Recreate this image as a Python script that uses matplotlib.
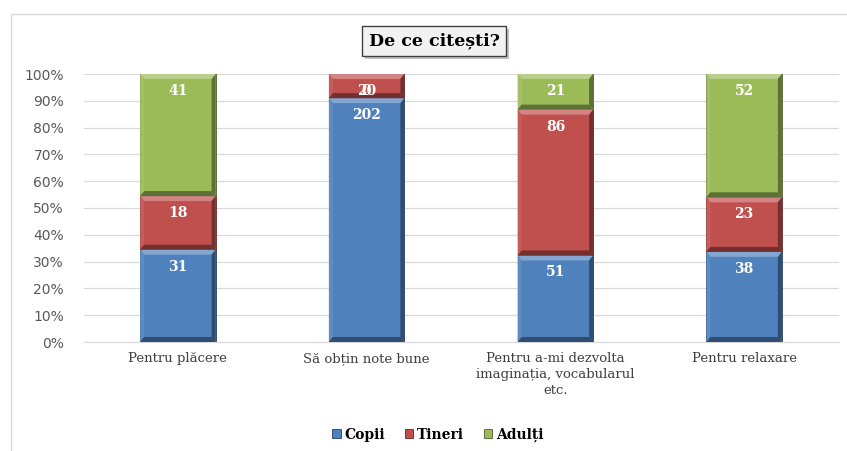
import matplotlib
matplotlib.use("Agg")
import matplotlib.pyplot as plt
import numpy as np
from matplotlib.patches import Polygon, Rectangle
from matplotlib.ticker import PercentFormatter

categories = ["Pentru plăcere", "Să obțin note bune",
              "Pentru a-mi dezvolta\nimaginația, vocabularul\netc.", "Pentru relaxare"]
series_names = ["Copii", "Tineri", "Adulți"]
copii = [31, 202, 51, 38]
tineri = [18, 20, 86, 23]
adulti = [41, 0, 21, 52]
colors = ["#4F81BD", "#C0504D", "#9BBB59"]

W, H = 847, 451
fig = plt.figure(figsize=(W / 100, H / 100), dpi=100)
ax = fig.add_axes([83.5 / W, 1 - 342 / H, 755 / W, 268 / H])

serif = ["DejaVu Serif"]

# outer chart-area frame (left and top edges visible)
fig.patches.append(Rectangle((11 / W, -0.1), 2.0, 1 - 14 / H + 0.1,
                             transform=fig.transFigure, fill=False,
                             edgecolor="#d9d9d9", linewidth=1.0, zorder=0))

data = np.array([copii, tineri, adulti], dtype=float)
totals = data.sum(axis=0)
fracs = data / totals
x = np.arange(len(categories))
width = 0.4


def lighten(c, f):
    c = np.array(matplotlib.colors.to_rgb(c))
    return tuple(c + (1 - c) * f)


def darken(c, f):
    c = np.array(matplotlib.colors.to_rgb(c))
    return tuple(c * (1 - f))


dx = 4 / 189.0   # bevel width in x data units
dy = 5 / 268.0   # bevel height in y data units

bottom = np.zeros(len(categories))
for i, (name, col) in enumerate(zip(series_names, colors)):
    bars = ax.bar(x, fracs[i], width, bottom=bottom, color=col, label=name,
                  edgecolor=darken(col, 0.5), linewidth=0.6, zorder=2)
    for j, b in enumerate(bars):
        h = b.get_height()
        if h <= 0:
            continue
        x0, y0 = b.get_x(), b.get_y()
        x1, y1 = x0 + b.get_width(), y0 + h
        ddy = min(dy, h / 3)
        # top highlight
        ax.add_patch(Polygon([(x0, y1), (x1, y1), (x1 - dx, y1 - ddy), (x0 + dx, y1 - ddy)],
                             closed=True, color=lighten(col, 0.3), lw=0, zorder=3))
        # left highlight
        ax.add_patch(Polygon([(x0, y0), (x0, y1), (x0 + dx, y1 - ddy), (x0 + dx, y0 + ddy)],
                             closed=True, color=lighten(col, 0.08), lw=0, zorder=3))
        # right shade
        ax.add_patch(Polygon([(x1, y0), (x1, y1), (x1 - dx, y1 - ddy), (x1 - dx, y0 + ddy)],
                             closed=True, color=darken(col, 0.4), lw=0, zorder=3))
        # bottom shade
        ax.add_patch(Polygon([(x0, y0), (x1, y0), (x1 - dx, y0 + ddy), (x0 + dx, y0 + ddy)],
                             closed=True, color=darken(col, 0.4), lw=0, zorder=3))
    bottom += fracs[i]

ax.set_xlim(-0.5, len(categories) - 0.5)
ax.set_ylim(0, 1)

# value labels at the inside end of each segment
label_drop = 17 / 268.0
tops = np.cumsum(fracs, axis=0)
for i in range(len(series_names)):
    for j in range(len(categories)):
        ax.text(x[j], tops[i, j] - label_drop, f"{int(data[i, j])}", ha="center",
                va="center", color="white", fontsize=10, fontweight="bold",
                family=serif, zorder=5)

ax.yaxis.set_major_locator(matplotlib.ticker.MultipleLocator(0.1))
ax.yaxis.set_major_formatter(PercentFormatter(1.0, decimals=0))
ax.grid(axis="y", color="#d9d9d9", linewidth=0.9, zorder=0)
ax.set_axisbelow(True)
for s in ["top", "right", "left"]:
    ax.spines[s].set_visible(False)
ax.spines["bottom"].set_color("#d9d9d9")
ax.tick_params(axis="y", length=0, pad=14, labelsize=10, labelcolor="#595959")
ax.tick_params(axis="x", length=0, pad=7)
ax.set_xticks(x)
ax.set_xticklabels(categories, fontsize=9.5, color="#404040", family=serif,
                   linespacing=1.3, va="top")
for lbl in ax.get_yticklabels():
    lbl.set_family("DejaVu Sans")

# title with framed box and drop shadow
title = fig.text(434 / W, 1 - 41 / H, "De ce citești?", ha="center", va="center",
                 fontsize=12.5, fontweight="bold", family=serif, color="black",
                 bbox=dict(boxstyle="square,pad=0.4", facecolor="#f2f2f2",
                           edgecolor="#404040", linewidth=1.0), zorder=10)
fig.canvas.draw()
bb = title.get_bbox_patch().get_window_extent()
off = 3
fig.patches.append(Rectangle(((bb.x0 + off) / W, (bb.y0 - off) / H),
                             bb.width / W, bb.height / H, transform=fig.transFigure,
                             facecolor="#9a9a9a", edgecolor="none", alpha=0.6, zorder=9))

leg = fig.legend(loc="center", bbox_to_anchor=(438 / W, 1 - 435 / H), ncol=3,
                 frameon=False, handlelength=0.6, handleheight=0.6, handletextpad=0.3,
                 columnspacing=1.4, prop={"family": serif, "weight": "bold", "size": 10})

fig.savefig("out.png", dpi=100)
